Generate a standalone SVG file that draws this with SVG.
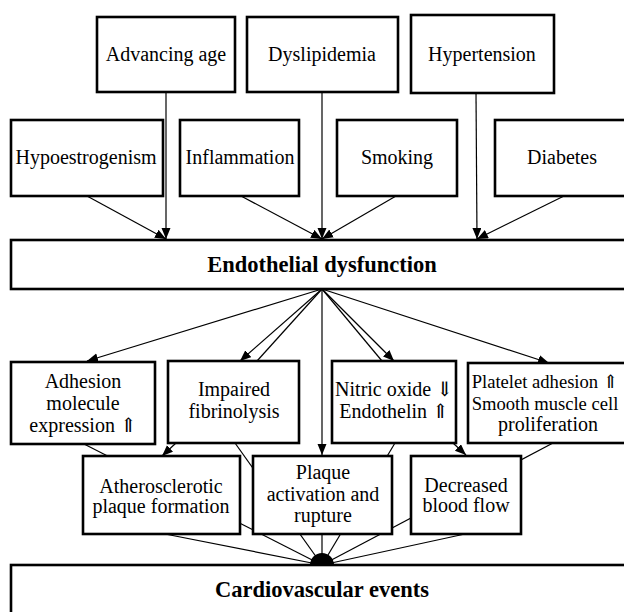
<svg xmlns="http://www.w3.org/2000/svg" width="624" height="612" viewBox="0 0 624 612">
  <style>
    .box { fill: #ffffff; stroke: #000000; stroke-width: 2.6; }
    .lbl { font-family: "Liberation Serif", "DejaVu Serif", serif; font-size: 20px; fill: #000000; text-anchor: middle; }
    .tight { font-size: 18.6px; }
    .head { font-family: "Liberation Serif", "DejaVu Serif", serif; font-size: 22.5px; font-weight: bold; fill: #000000; text-anchor: middle; }
    .link { stroke: #000000; stroke-width: 1.2; fill: none; }
    .arrow { marker-end: url(#tip); }
  </style>
  <defs>
    <marker id="tip" markerUnits="userSpaceOnUse" markerWidth="12" markerHeight="10" refX="11" refY="4.5" orient="auto">
      <path d="M0,0 L11,4.5 L0,9 Z" fill="#000000"/>
    </marker>
  </defs>

  <rect width="624" height="612" fill="#ffffff"/>

  <!-- connectors -->
  <g id="connectors">
    <!-- risk factors into endothelial dysfunction -->
    <line class="link arrow" x1="166" y1="93" x2="166" y2="239"/>
    <line class="link arrow" x1="87" y1="196" x2="166" y2="239"/>
    <line class="link arrow" x1="241" y1="196" x2="322" y2="239"/>
    <line class="link arrow" x1="322" y1="93" x2="322" y2="239"/>
    <line class="link arrow" x1="396" y1="196" x2="322" y2="239"/>
    <line class="link arrow" x1="476" y1="93" x2="477" y2="239"/>
    <line class="link arrow" x1="564" y1="196" x2="477" y2="239"/>

    <!-- fan out of endothelial dysfunction -->
    <line class="link arrow" x1="322" y1="289" x2="87" y2="361"/>
    <line class="link arrow" x1="322" y1="289" x2="240" y2="361"/>
    <line class="link" x1="322" y1="289" x2="257" y2="361"/>
    <line class="link arrow" x1="322" y1="289" x2="322" y2="455"/>
    <line class="link" x1="322" y1="289" x2="382" y2="361"/>
    <line class="link arrow" x1="322" y1="289" x2="394" y2="361"/>
    <line class="link arrow" x1="322" y1="289" x2="549" y2="363"/>

    <!-- middle row into bottom row -->
    <line class="link arrow" x1="176" y1="443" x2="162" y2="456"/>
    <line class="link arrow" x1="453" y1="443" x2="466" y2="455"/>

    <!-- everything gathering into cardiovascular events -->
    <line class="link" x1="84" y1="444" x2="322" y2="565"/>
    <line class="link" x1="235" y1="443" x2="322" y2="565"/>
    <line class="link" x1="395" y1="443" x2="322" y2="565"/>
    <line class="link" x1="553" y1="443" x2="322" y2="565"/>
    <line class="link" x1="165" y1="534" x2="322" y2="565"/>
    <line class="link" x1="322" y1="534" x2="322" y2="565"/>
    <line class="link" x1="465" y1="534" x2="322" y2="565"/>
    <path id="hub" d="M310,565 A12,12 0 0 1 334,565 Z" fill="#000000"/>
  </g>

  <!-- risk factors, upper row -->
  <g id="advancing-age">
    <rect class="box" x="97" y="17" width="138" height="75"/>
    <text class="lbl" x="166" y="61">Advancing age</text>
  </g>
  <g id="dyslipidemia">
    <rect class="box" x="247" y="17" width="151" height="75"/>
    <text class="lbl" x="322" y="61">Dyslipidemia</text>
  </g>
  <g id="hypertension">
    <rect class="box" x="411" y="15" width="143" height="78"/>
    <text class="lbl" x="482" y="61">Hypertension</text>
  </g>

  <!-- risk factors, lower row -->
  <g id="hypoestrogenism">
    <rect class="box" x="11" y="120" width="152" height="76"/>
    <text class="lbl" x="86" y="164">Hypoestrogenism</text>
  </g>
  <g id="inflammation">
    <rect class="box" x="180" y="120" width="119" height="76"/>
    <text class="lbl" x="240" y="164">Inflammation</text>
  </g>
  <g id="smoking">
    <rect class="box" x="337" y="120" width="120" height="76"/>
    <text class="lbl" x="397" y="164">Smoking</text>
  </g>
  <g id="diabetes">
    <rect class="box" x="495" y="120" width="160" height="76"/>
    <text class="lbl" x="562" y="164">Diabetes</text>
  </g>

  <!-- central state -->
  <g id="endothelial-dysfunction">
    <rect class="box" x="11" y="240" width="650" height="49"/>
    <text class="head" x="322" y="272">Endothelial dysfunction</text>
  </g>

  <!-- mechanisms -->
  <g id="adhesion">
    <rect class="box" x="11" y="362" width="144" height="82"/>
    <text class="lbl" x="83" y="388">Adhesion</text>
    <text class="lbl" x="83" y="410">molecule</text>
    <text class="lbl" x="83" y="432">expression ⇑</text>
  </g>
  <g id="impaired-fibrinolysis">
    <rect class="box" x="168" y="361" width="131" height="82"/>
    <text class="lbl" x="234" y="396">Impaired</text>
    <text class="lbl" x="234" y="418">fibrinolysis</text>
  </g>
  <g id="nitric-oxide">
    <rect class="box" x="332" y="361" width="124" height="82"/>
    <text class="lbl" x="394" y="396">Nitric oxide ⇓</text>
    <text class="lbl" x="394" y="418">Endothelin ⇑</text>
  </g>
  <g id="platelet-adhesion">
    <rect class="box" x="468" y="363" width="190" height="80"/>
    <text class="lbl tight" x="545" y="388">Platelet adhesion ⇑</text>
    <text class="lbl tight" x="545" y="410">Smooth muscle cell</text>
    <text class="lbl" x="548" y="431">proliferation</text>
  </g>

  <!-- outcomes -->
  <g id="atherosclerotic-plaque">
    <rect class="box" x="83" y="456" width="157" height="78"/>
    <text class="lbl" x="161" y="493">Atherosclerotic</text>
    <text class="lbl" x="161" y="513">plaque formation</text>
  </g>
  <g id="plaque-rupture">
    <rect class="box" x="253" y="456" width="139" height="78"/>
    <text class="lbl" x="323" y="479">Plaque</text>
    <text class="lbl" x="323" y="501">activation and</text>
    <text class="lbl" x="323" y="522">rupture</text>
  </g>
  <g id="decreased-blood-flow">
    <rect class="box" x="411" y="456" width="110" height="78"/>
    <text class="lbl" x="466" y="492">Decreased</text>
    <text class="lbl" x="466" y="512">blood flow</text>
  </g>

  <g id="cardiovascular-events">
    <rect class="box" x="11" y="565" width="650" height="70"/>
    <text class="head" x="322" y="597">Cardiovascular events</text>
  </g>
</svg>
